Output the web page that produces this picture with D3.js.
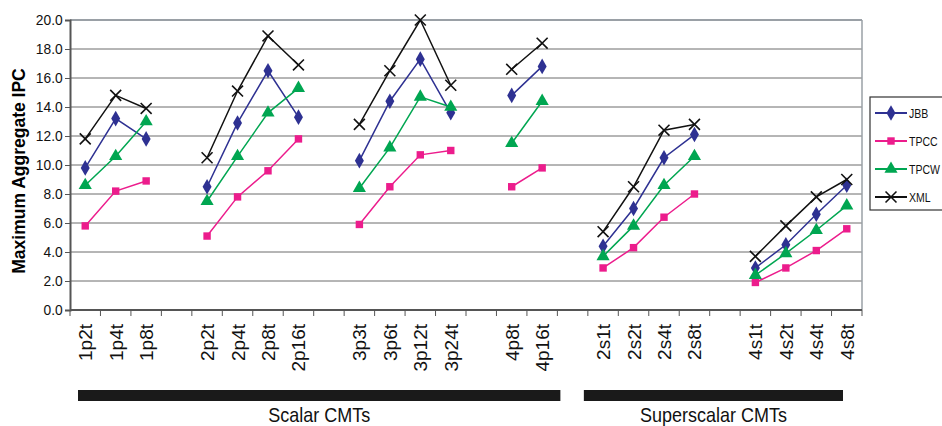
<!DOCTYPE html>
<html>
<head>
<meta charset="utf-8">
<script src="https://cdn.jsdelivr.net/npm/d3@7"></script>
<style>
  body { margin: 0; background: #fff; }
  text { font-family: "Liberation Sans", Arial, sans-serif; }
</style>
</head>
<body>
<div id="chart"></div>
<script>
// slots along the x axis, null = empty gap slot
var categories = ["1p2t", "1p4t", "1p8t", null,
  "2p2t", "2p4t", "2p8t", "2p16t", null,
  "3p3t", "3p6t", "3p12t", "3p24t", null,
  "4p8t", "4p16t", null,
  "2s1t", "2s2t", "2s4t", "2s8t", null,
  "4s1t", "4s2t", "4s4t", "4s8t"];

var jbb  = [9.8, 13.2, 11.8, null, 8.5, 12.9, 16.5, 13.3, null, 10.3, 14.4, 17.3, 13.6, null, 14.8, 16.8, null, 4.4, 7.0, 10.5, 12.1, null, 2.9, 4.5, 6.6, 8.6];
var tpcc = [5.8, 8.2, 8.9, null, 5.1, 7.8, 9.6, 11.8, null, 5.9, 8.5, 10.7, 11.0, null, 8.5, 9.8, null, 2.9, 4.3, 6.4, 8.0, null, 1.9, 2.9, 4.1, 5.6];
var tpcw = [8.6, 10.6, 13.0, null, 7.5, 10.6, 13.6, 15.3, null, 8.4, 11.2, 14.7, 14.0, null, 11.5, 14.4, null, 3.7, 5.8, 8.6, 10.6, null, 2.4, 3.9, 5.5, 7.2];
var xml  = [11.8, 14.8, 13.9, null, 10.5, 15.1, 18.9, 16.9, null, 12.8, 16.5, 20.0, 15.5, null, 16.6, 18.4, null, 5.4, 8.5, 12.4, 12.8, null, 3.7, 5.8, 7.8, 9.0];

var seriesNames = ["JBB", "TPCC", "TPCW", "XML"];
var yTicks = [0, 2, 4, 6, 8, 10, 12, 14, 16, 18, 20];

// group bars below the axis: first and last slot index covered
var groups = [
  {label: "Scalar CMTs", from: 0, to: 15},
  {label: "Superscalar CMTs", from: 17, to: 25}
];

var series = [
  {name: seriesNames[0], values: jbb, color: "#2e3192", symbol: "diamond"},
  {name: seriesNames[1], values: tpcc, color: "#ec1c8c", symbol: "square"},
  {name: seriesNames[2], values: tpcw, color: "#00a651", symbol: "triangle"},
  {name: seriesNames[3], values: xml, color: "#111111", symbol: "cross"}
];

var W = 942, H = 426;
var margin = {top: 20, right: 80, bottom: 116, left: 70};
var width = W - margin.left - margin.right,
    height = H - margin.top - margin.bottom;

var svg = d3.select("#chart").append("svg")
    .attr("width", W)
    .attr("height", H);

var g = svg.append("g")
    .attr("transform", "translate(" + margin.left + "," + margin.top + ")");

var x = d3.scaleBand()
  .domain(d3.range(categories.length))
  .range([0, width]);

var y = d3.scaleLinear()
  .domain([0, 20])
  .range([height, 0]);

// gridlines
g.selectAll(".grid")
  .data(yTicks.filter(function(d) { return d > 0 && d < 20; }))
  .enter().append("line")
    .attr("x1", 0).attr("x2", width)
    .attr("y1", function(d) { return y(d); })
    .attr("y2", function(d) { return y(d); })
    .attr("stroke", "#6d6d6d")
    .attr("stroke-width", 1);

// top border, right border
g.append("line")
  .attr("x1", 0).attr("x2", width)
  .attr("y1", y(20)).attr("y2", y(20))
  .attr("stroke", "#9aa0a6").attr("stroke-width", 2);
g.append("line")
  .attr("x1", width).attr("x2", width)
  .attr("y1", 0).attr("y2", height)
  .attr("stroke", "#9aa0a6").attr("stroke-width", 1.5);

// y axis
var yAxis = g.append("g")
  .call(d3.axisLeft(y).tickValues(yTicks).tickFormat(d3.format(".1f")).tickSize(5));
yAxis.select(".domain").attr("stroke", "#555").attr("stroke-width", 2);
yAxis.selectAll(".tick line").attr("stroke", "#555");
yAxis.selectAll("text").attr("font-size", 15).attr("fill", "#111")
  .style("font-family", "'Liberation Sans', Arial, sans-serif")
  .attr("transform", "scale(0.92,1)");

// x axis with ticks at slot boundaries
var xAxis = g.append("g").attr("transform", "translate(0," + height + ")");
xAxis.append("line")
  .attr("x1", 0).attr("x2", width)
  .attr("stroke", "#555").attr("stroke-width", 2);
xAxis.selectAll(".xt")
  .data(d3.range(categories.length + 1))
  .enter().append("line")
    .attr("x1", function(i) { return i * x.step(); })
    .attr("x2", function(i) { return i * x.step(); })
    .attr("y1", 0).attr("y2", 6)
    .attr("stroke", "#555");
xAxis.selectAll(".xl")
  .data(categories.map(function(c, i) { return {c: c, i: i}; }).filter(function(d) { return d.c; }))
  .enter().append("text")
    .attr("transform", function(d) {
      return "translate(" + (x(d.i) + x.bandwidth() / 2 + 7) + ",14) rotate(-90)";
    })
    .attr("text-anchor", "end")
    .attr("font-size", 19)
    .attr("fill", "#111")
    .text(function(d) { return d.c; });

// y title
svg.append("text")
  .attr("transform", "translate(25," + (margin.top + height / 2 + 6) + ") rotate(-90)")
  .attr("text-anchor", "middle")
  .attr("font-size", 17.5)
  .attr("font-weight", "bold")
  .text("Maximum Aggregate IPC");

// lines and markers
var line = d3.line()
  .defined(function(d) { return d != null; })
  .x(function(d, i) { return x(i) + x.bandwidth() / 2; })
  .y(function(d) { return y(d); });

function marker(sel, s) {
  var sym = {diamond: d3.symbolDiamond, square: d3.symbolSquare, triangle: d3.symbolTriangle, cross: d3.symbolX}[s.symbol];
  var size = {diamond: 70, square: 55, triangle: 75, cross: 80}[s.symbol];
  var p = sel.append("path").attr("d", d3.symbol().type(sym).size(size)());
  if (s.symbol === "cross") {
    p.attr("fill", "none").attr("stroke", s.color).attr("stroke-width", 1.6);
  } else {
    p.attr("fill", s.color);
  }
  return p;
}

series.forEach(function(s) {
  var sg = g.append("g");
  sg.append("path")
    .datum(s.values)
    .attr("fill", "none")
    .attr("stroke", s.color)
    .attr("stroke-width", 1.5)
    .attr("d", line);
  s.values.forEach(function(v, i) {
    if (v == null) return;
    var m = sg.append("g")
      .attr("transform", "translate(" + (x(i) + x.bandwidth() / 2) + "," + y(v) + ")");
    marker(m, s);
  });
});

// legend
var lg = svg.append("g").attr("transform", "translate(870,97)");
lg.append("rect")
  .attr("x", 0).attr("y", 0)
  .attr("width", 80).attr("height", 113)
  .attr("fill", "#fff").attr("stroke", "#333").attr("stroke-width", 1.2);
series.forEach(function(s, i) {
  var ly = 16 + i * 28;
  lg.append("line")
    .attr("x1", 5).attr("x2", 37)
    .attr("y1", ly).attr("y2", ly)
    .attr("stroke", s.color).attr("stroke-width", 2);
  var m = lg.append("g").attr("transform", "translate(21," + ly + ")");
  marker(m, s);
  lg.append("text")
    .attr("transform", "translate(39," + (ly + 5) + ") scale(0.78,1)")
    .attr("font-size", 13.5)
    .attr("fill", "#111")
    .text(s.name);
});

// group bars
groups.forEach(function(gr, k) {
  var x0 = margin.left + x(gr.from) + (k === 0 ? 8 : -4),
      x1 = margin.left + x(gr.to) + x.bandwidth() + (k === 0 ? 3 : -19);
  svg.append("rect")
    .attr("x", x0).attr("y", 390)
    .attr("width", x1 - x0).attr("height", 11)
    .attr("fill", "#1a1a1a");
  svg.append("text")
    .attr("transform", "translate(" + ((x0 + x1) / 2) + ",422) scale(0.9,1.05)")
    .attr("text-anchor", "middle")
    .attr("font-size", 20)
    .attr("fill", "#111")
    .text(gr.label);
});
</script>
</body>
</html>
